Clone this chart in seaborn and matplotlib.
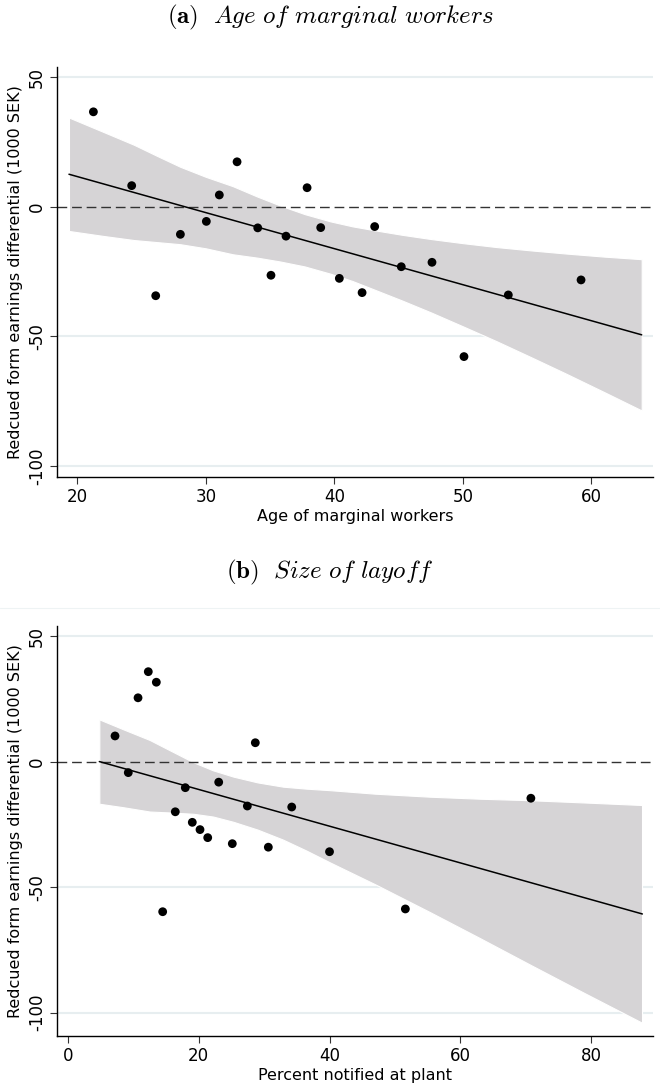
import matplotlib
matplotlib.use("Agg")
import matplotlib.pyplot as plt
import seaborn as sns
from matplotlib.lines import Line2D

# ---------------- data: panel (a) ----------------
age_x = [21.25, 24.23, 26.10, 28.02, 30.04, 31.05, 32.43, 34.04, 35.07, 36.24,
         37.88, 38.94, 40.39, 42.16, 43.14, 45.21, 47.60, 50.09, 53.54, 59.20]
age_y = [36.7, 8.2, -34.3, -10.6, -5.6, 4.6, 17.4, -8.1, -26.4, -11.3,
         7.4, -8.0, -27.6, -33.1, -7.6, -23.1, -21.4, -57.8, -34.0, -28.2]
fit_a_x = [19.35, 63.92]
fit_a_y = [12.6, -49.4]
band_a_x = [19.35, 22.0, 24.4, 26.2, 28.0, 30.0, 32.1, 34.0, 35.8, 37.7, 39.7,
            41.4, 43.1, 45.3, 47.5, 50.0, 52.6, 55.3, 58.0, 61.0, 63.92]
band_a_hi = [34.5, 29.0, 24.0, 19.7, 15.5, 11.6, 8.0, 4.0, 0.5, -2.8, -5.6,
             -7.5, -9.0, -10.8, -12.4, -14.0, -15.5, -16.8, -18.0, -19.2, -20.2]
band_a_lo = [-9.3, -11.2, -12.8, -13.6, -14.4, -16.0, -18.3, -19.6, -21.1, -23.0, -25.8,
             -28.6, -31.9, -36.2, -40.7, -46.1, -51.8, -58.0, -64.3, -71.5, -78.6]

# ---------------- data: panel (b) ----------------
pct_x = [7.19, 10.71, 12.28, 13.51, 9.22, 17.94, 23.05, 28.65, 27.43, 34.22,
         16.41, 19.01, 20.19, 21.37, 25.13, 30.64, 40.0, 14.48, 51.6, 70.8]
pct_y = [10.2, 25.4, 35.8, 31.6, -4.4, -10.4, -8.2, 7.5, -17.7, -18.1,
         -20.0, -24.2, -27.1, -30.3, -32.7, -34.1, -35.9, -59.8, -58.7, -14.6]
fit_b_x = [4.79, 87.85]
fit_b_y = [0.0, -60.7]
band_b_x = [4.79, 8.5, 12.5, 15.8, 19.2, 22.2, 25.3, 29.0, 32.9, 36.5, 40.1,
            47.0, 55.4, 63.0, 70.7, 79.0, 87.8]
band_b_hi = [16.8, 12.8, 8.6, 4.2, -0.3, -3.5, -6.0, -8.3, -10.0, -10.8, -11.4,
             -12.8, -14.0, -14.8, -15.4, -16.3, -17.3]
band_b_lo = [-16.8, -18.2, -19.9, -20.3, -20.8, -21.9, -24.0, -27.1, -31.1, -35.5, -40.2,
             -48.9, -60.0, -70.3, -80.9, -92.2, -104.0]

y_ticks = [-100, -50, 0, 50]
x_ticks_a = [20, 30, 40, 50, 60]
x_ticks_b = [0, 20, 40, 60, 80]
y_label = "Redcued form earnings differential (1000 SEK)"
x_label_a = "Age of marginal workers"
x_label_b = "Percent notified at plant"
title_a = r"$\mathbf{(a)}\ \ \mathit{Age\ of\ marginal\ workers}$"
title_b = r"$\mathbf{(b)}\ \ \mathit{Size\ of\ layoff}$"

sns.set_theme(style="white")
plt.rcParams["font.family"] = ["DejaVu Sans"]
plt.rcParams["mathtext.fontset"] = "cm"
plt.rcParams["axes.unicode_minus"] = False
plt.rcParams["text.color"] = "black"
plt.rcParams["axes.labelcolor"] = "black"
plt.rcParams["xtick.color"] = "black"
plt.rcParams["ytick.color"] = "black"

fig = plt.figure(figsize=(6.6, 10.85), dpi=100)
ax_a = fig.add_axes([0.0868, 0.5601, 0.9026, 0.3779])
ax_b = fig.add_axes([0.0868, 0.04516, 0.9026, 0.3779])

GRID = "#e7eef0"
BAND = "#d6d4d6"


def draw(ax, px, py, fx, fy, bx, blo, bhi, xlim, ylim, xticks, xlabel):
    ax.set_xlim(*xlim)
    ax.set_ylim(*ylim)
    for t in y_ticks:
        if t != 0:
            ax.axhline(t, color=GRID, lw=1.5, zorder=0)
    ax.fill_between(bx, blo, bhi, color=BAND, edgecolor="white", lw=0.8, zorder=1)
    ax.axhline(0, color="#333333", lw=1.0, dashes=(7, 3.5), zorder=2)
    sns.lineplot(x=fx, y=fy, ax=ax, color="black", lw=1.1, zorder=3)
    sns.scatterplot(x=px, y=py, ax=ax, color="black", s=40, edgecolor="none", zorder=4)
    ax.set_xticks(xticks)
    ax.set_yticks(y_ticks)
    ax.set_yticklabels([str(t) for t in y_ticks], rotation=90, va="center")
    ax.tick_params(axis="both", which="major", labelsize=12, length=5, width=0.8,
                   direction="out", color="#333333", left=True, bottom=True, pad=3)
    for s in ["top", "right"]:
        ax.spines[s].set_visible(False)
    for s in ["left", "bottom"]:
        ax.spines[s].set_color("black")
        ax.spines[s].set_linewidth(1.0)
    ax.set_xlabel(xlabel, fontsize=11.5, labelpad=2)
    ax.set_ylabel(y_label, fontsize=11.5, labelpad=4)


draw(ax_a, age_x, age_y, fit_a_x, fit_a_y, band_a_x, band_a_lo, band_a_hi,
     (18.44, 64.80), (-104.4, 53.9), x_ticks_a, x_label_a)
draw(ax_b, pct_x, pct_y, fit_b_x, fit_b_y, band_b_x, band_b_lo, band_b_hi,
     (-1.64, 89.48), (-109.3, 54.0), x_ticks_b, x_label_b)

fig.text(0.5, 0.984, title_a, ha="center", va="center", fontsize=18)
fig.text(0.5, 0.472, title_b, ha="center", va="center", fontsize=18)
fig.add_artist(Line2D([0, 1], [1 - 608 / 1085, 1 - 608 / 1085],
                      transform=fig.transFigure, color="#eef3f4", lw=0.8))

fig.savefig("out.png", dpi=100)
